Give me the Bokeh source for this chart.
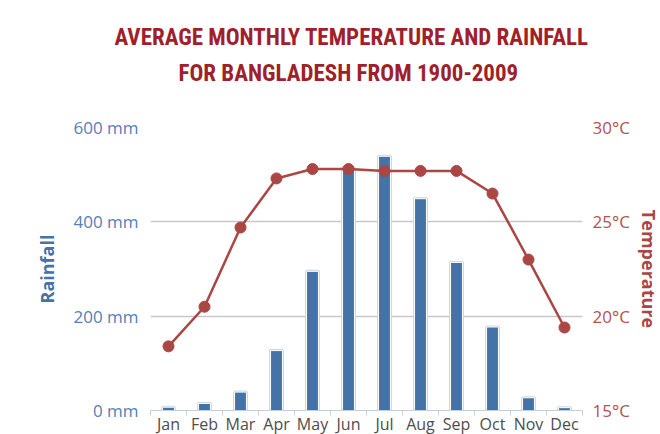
from bokeh.plotting import figure
from bokeh.models import Range1d, LinearAxis, FixedTicker, PrintfTickFormatter, Title, ColumnDataSource
from bokeh.embed import file_html
from bokeh.resources import INLINE

months = ["Jan", "Feb", "Mar", "Apr", "May", "Jun", "Jul", "Aug", "Sep", "Oct", "Nov", "Dec"]
rainfall_mm = [7, 15, 39, 127, 295, 515, 539, 449, 314, 177, 27, 6]
temperature_c = [18.4, 20.5, 24.7, 27.3, 27.8, 27.8, 27.7, 27.7, 27.7, 26.5, 23.0, 19.4]
rain_ticks = [0, 200, 400, 600]
temp_ticks = [15, 20, 25, 30]
title_lines = ["AVERAGE MONTHLY TEMPERATURE AND RAINFALL", "FOR BANGLADESH FROM 1900-2009"]

BLUE = "#4572a7"
RED = "#aa4643"
TITLE_RED = "#a01f2b"
FONT = "Open Sans"
TITLE_FONT = "Roboto Condensed, DejaVu Sans Condensed, Liberation Sans Narrow, Roboto"

idx = list(range(1, len(months) + 1))
src = ColumnDataSource(dict(x=idx, month=months, rain=rainfall_mm, temp=temperature_c))

p = figure(frame_width=432, frame_height=283,
           x_range=Range1d(0.5, 12.5), y_range=Range1d(0, 600),
           min_border_left=150, min_border_right=78, min_border_top=127, min_border_bottom=24,
           output_backend="svg", toolbar_location=None)
p.outline_line_color = None
p.background_fill_color = "white"
p.border_fill_color = "white"

p.extra_y_ranges = {"temp": Range1d(15, 30)}

# grid
p.xgrid.visible = False
p.ygrid.ticker = FixedTicker(ticks=rain_ticks)
p.ygrid.grid_line_color = "#c8c8c8"
p.ygrid.grid_line_width = 1.5

# left axis
ya = p.yaxis[0]
ya.ticker = FixedTicker(ticks=rain_ticks)
ya.formatter = PrintfTickFormatter(format="%d mm")
ya.axis_line_color = None
ya.major_tick_line_color = None
ya.minor_tick_line_color = None
ya.major_tick_out = 0
ya.minor_tick_out = 0
ya.major_label_text_color = "#5580b8"
ya.major_label_text_font = FONT
ya.major_label_text_font_size = "17px"
ya.major_label_standoff = 12
ya.axis_label = "Rainfall"
ya.axis_label_text_color = BLUE
ya.axis_label_text_font = FONT
ya.axis_label_text_font_style = "bold"
ya.axis_label_text_font_size = "18px"
ya.axis_label_standoff = 11

# right axis
ra = LinearAxis(y_range_name="temp", ticker=FixedTicker(ticks=temp_ticks),
                formatter=PrintfTickFormatter(format="%d°C"))
ra.axis_line_color = None
ra.major_tick_line_color = None
ra.minor_tick_line_color = None
ra.major_tick_out = 0
ra.minor_tick_out = 0
ra.major_label_text_color = "#b5524f"
ra.major_label_text_font = FONT
ra.major_label_text_font_size = "17px"
ra.major_label_standoff = 10
ra.axis_label = "Temperature"
ra.axis_label_text_color = RED
ra.axis_label_text_font = FONT
ra.axis_label_text_font_style = "bold"
ra.axis_label_text_font_size = "18px"
ra.axis_label_standoff = 4
p.add_layout(ra, "right")

# x axis
xa = p.xaxis[0]
xa.ticker = FixedTicker(ticks=idx, minor_ticks=[i + 0.5 for i in range(0, len(months) + 1)])
xa.major_label_overrides = {i: m for i, m in zip(idx, months)}
xa.axis_line_color = "#c0d0e0"
xa.major_tick_line_color = None
xa.major_tick_out = 0
xa.minor_tick_line_color = "#c0d0e0"
xa.minor_tick_in = 0
xa.minor_tick_out = 5
xa.major_label_text_color = "#4d4d4d"
xa.major_label_text_font = FONT
xa.major_label_text_font_size = "16px"
xa.major_label_standoff = -3

# bars (shadow outline then bar)
p.vbar(x="x", top="rain", width=0.33, source=src, fill_color=None,
       line_color="#d4d4d4", line_width=3)
p.vbar(x="x", top="rain", width=0.33, source=src, fill_color=BLUE,
       line_color="white", line_width=1)

# temperature line
p.line(x="x", y="temp", source=src, y_range_name="temp", line_color=RED, line_width=2.5)
p.scatter(x="x", y="temp", source=src, y_range_name="temp", size=11,
          fill_color=RED, line_color=RED)

# title: panels stack outward from the frame (first added is nearest)
def title(text, standoff, offset):
    return Title(text=text, align="left", offset=offset, text_font=TITLE_FONT,
                 text_font_size="23px", text_font_style="bold", text_color=TITLE_RED,
                 standoff=standoff)

p.add_layout(title(" ", 12, 0), "above")          # spacer between title and plot
p.add_layout(title(title_lines[1], 0, 28), "above")
p.add_layout(title(title_lines[0], 14, -36), "above")

open("out.html", "w").write(file_html(p, INLINE))
